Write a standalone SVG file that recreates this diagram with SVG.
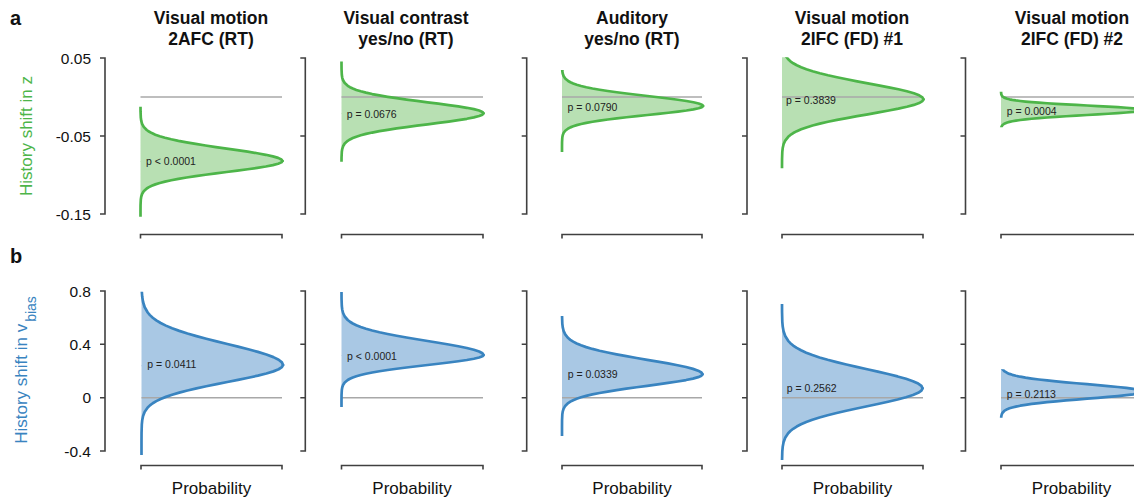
<svg xmlns="http://www.w3.org/2000/svg" xmlns:xlink="http://www.w3.org/1999/xlink" width="1134" height="503" viewBox="0 0 1134 503">
<style>
.ax{fill:none;stroke:#404040;stroke-width:1.6}
.zero{stroke:#a8a8a8;stroke-width:1.5}
.gf{fill:#b8e0b3;stroke:none}
.gs{fill:none;stroke:#4db549;stroke-width:2.7;stroke-linejoin:round;stroke-linecap:round}
.bf{fill:#a9c8e4;stroke:none}
.bs{fill:none;stroke:#3984c0;stroke-width:2.7;stroke-linejoin:round;stroke-linecap:round}
.tk{font-family:"Liberation Sans",Arial,sans-serif;font-size:15.5px;fill:#111;text-anchor:end}
.pv{font-family:"Liberation Sans",Arial,sans-serif;font-size:10.5px;fill:#222}
.ttl{font-family:"Liberation Sans",Arial,sans-serif;font-size:17.5px;font-weight:bold;fill:#111;text-anchor:middle}
.xl{font-family:"Liberation Sans",Arial,sans-serif;font-size:17px;fill:#111;text-anchor:middle}
.yl{font-family:"Liberation Sans",Arial,sans-serif;font-size:17px;text-anchor:middle}
.lt{font-family:"Liberation Sans",Arial,sans-serif;font-size:20px;font-weight:bold;fill:#111}
</style>
<defs>
<path id="us" vector-effect="non-scaling-stroke" d="M0,-40 V-4.5 L0.00034,-4 L0.00219,-3.5 L0.00509,-3.25 L0.01111,-3 L0.02279,-2.75 L0.04394,-2.5 L0.05958,-2.375 L0.07956,-2.25 L0.10459,-2.125 L0.13534,-2 L0.17242,-1.875 L0.21627,-1.75 L0.26705,-1.625 L0.32465,-1.5 L0.38856,-1.375 L0.45783,-1.25 L0.53111,-1.125 L0.60653,-1 L0.68194,-0.875 L0.75484,-0.75 L0.82258,-0.625 L0.8825,-0.5 L0.9321,-0.375 L0.96923,-0.25 L0.99222,-0.125 L1,0"/>
<path id="uf" d="M0,0.06 V-40 V-4.5 L0.00034,-4 L0.00219,-3.5 L0.00509,-3.25 L0.01111,-3 L0.02279,-2.75 L0.04394,-2.5 L0.05958,-2.375 L0.07956,-2.25 L0.10459,-2.125 L0.13534,-2 L0.17242,-1.875 L0.21627,-1.75 L0.26705,-1.625 L0.32465,-1.5 L0.38856,-1.375 L0.45783,-1.25 L0.53111,-1.125 L0.60653,-1 L0.68194,-0.875 L0.75484,-0.75 L0.82258,-0.625 L0.8825,-0.5 L0.9321,-0.375 L0.96923,-0.25 L0.99222,-0.125 L1,0 L0.998,0.06 Z"/>
<path id="ds" vector-effect="non-scaling-stroke" d="M1,0 L0.99222,0.125 L0.96923,0.25 L0.9321,0.375 L0.8825,0.5 L0.82258,0.625 L0.75484,0.75 L0.68194,0.875 L0.60653,1 L0.53111,1.125 L0.45783,1.25 L0.38856,1.375 L0.32465,1.5 L0.26705,1.625 L0.21627,1.75 L0.17242,1.875 L0.13534,2 L0.10459,2.125 L0.07956,2.25 L0.05958,2.375 L0.04394,2.5 L0.02279,2.75 L0.01111,3 L0.00509,3.25 L0.00219,3.5 L0.00034,4 L0,4.5 V40"/>
<path id="df" d="M0,0 L1,0 L0.99222,0.125 L0.96923,0.25 L0.9321,0.375 L0.8825,0.5 L0.82258,0.625 L0.75484,0.75 L0.68194,0.875 L0.60653,1 L0.53111,1.125 L0.45783,1.25 L0.38856,1.375 L0.32465,1.5 L0.26705,1.625 L0.21627,1.75 L0.17242,1.875 L0.13534,2 L0.10459,2.125 L0.07956,2.25 L0.05958,2.375 L0.04394,2.5 L0.02279,2.75 L0.01111,3 L0.00509,3.25 L0.00219,3.5 L0.00034,4 L0,4.5 V40 Z"/>
<clipPath id="cA1"><rect x="130" y="106.7" width="165" height="110"/></clipPath>
<clipPath id="cA2"><rect x="331" y="61.5" width="165" height="100.2"/></clipPath>
<clipPath id="cA3"><rect x="552" y="70" width="165" height="82"/></clipPath>
<clipPath id="cA4"><rect x="772" y="57.3" width="165" height="111"/></clipPath>
<clipPath id="cA5"><rect x="991" y="91.7" width="165" height="35.6"/></clipPath>
<clipPath id="cB1"><rect x="130" y="291.7" width="165" height="163.3"/></clipPath>
<clipPath id="cB2"><rect x="331" y="292" width="165" height="115"/></clipPath>
<clipPath id="cB3"><rect x="552" y="316" width="165" height="120"/></clipPath>
<clipPath id="cB4"><rect x="772" y="304" width="165" height="156"/></clipPath>
<clipPath id="cB5"><rect x="991" y="369.3" width="165" height="48.4"/></clipPath>
</defs>

<rect x="0" y="0" width="1134" height="503" fill="#ffffff"/>

<g id="labels">
<text class="lt" x="10" y="25">a</text>
<text class="lt" x="10" y="263">b</text>
<text class="yl" fill="#4db549" transform="translate(32,136) rotate(-90)">History shift in z</text>
<text class="yl" fill="#3984c0" transform="translate(27,370) rotate(-90)">History shift in v<tspan dx="2" dy="9" font-size="14px">bias</tspan></text>
<text class="tk" x="91" y="63.5">0.05</text>
<text class="tk" x="91" y="141.5">-0.05</text>
<text class="tk" x="91" y="219.5">-0.15</text>
<text class="tk" x="91" y="296.5">0.8</text>
<text class="tk" x="91" y="349.8">0.4</text>
<text class="tk" x="91" y="403.2">0</text>
<text class="tk" x="91" y="456.5">-0.4</text>
</g>

<g id="titles">
<text class="ttl" x="211" y="24">Visual motion</text><text class="ttl" x="211" y="44.5">2AFC (RT)</text>
<text class="ttl" x="406" y="24">Visual contrast</text><text class="ttl" x="406" y="44.5">yes/no (RT)</text>
<text class="ttl" x="632" y="24">Auditory</text><text class="ttl" x="632" y="44.5">yes/no (RT)</text>
<text class="ttl" x="852" y="24">Visual motion</text><text class="ttl" x="852" y="44.5">2IFC (FD) #1</text>
<text class="ttl" x="1072" y="24">Visual motion</text><text class="ttl" x="1072" y="44.5">2IFC (FD) #2</text>
</g>

<!-- top row -->
<g id="panelA1">
<path class="ax" d="M100,58 H105 V214 H100 M100,136 H105"/>
<path class="ax" d="M140.5,238.5 V234.5 H282 V238.5"/>
<g clip-path="url(#cA1)">
<use href="#uf" class="gf" transform="translate(140.5,161) scale(142,12.4)"/>
<use href="#df" class="gf" transform="translate(140.5,161) scale(142,11)"/>
</g>
<line class="zero" x1="140.5" y1="97" x2="282" y2="97"/>
<g clip-path="url(#cA1)">
<use href="#us" class="gs" transform="translate(140.5,161) scale(142,12.4)"/>
<use href="#ds" class="gs" transform="translate(140.5,161) scale(142,11)"/>
</g>
<text class="pv" x="146" y="164.5">p &lt; 0.0001</text>
</g>

<g id="panelA2">
<path class="ax" d="M300.3,58 H305.3 V214 H300.3 M300.3,136 H305.3"/>
<path class="ax" d="M341.5,238.5 V234.5 H483 V238.5"/>
<g clip-path="url(#cA2)">
<use href="#uf" class="gf" transform="translate(341.5,113.3) scale(142,11)"/>
<use href="#df" class="gf" transform="translate(341.5,113.3) scale(142,11)"/>
</g>
<line class="zero" x1="341.5" y1="97" x2="483" y2="97"/>
<g clip-path="url(#cA2)">
<use href="#us" class="gs" transform="translate(341.5,113.3) scale(142,11)"/>
<use href="#ds" class="gs" transform="translate(341.5,113.3) scale(142,11)"/>
</g>
<text class="pv" x="346.7" y="118.3">p = 0.0676</text>
</g>

<g id="panelA3">
<path class="ax" d="M521.7,58 H526.7 V214 H521.7 M521.7,136 H526.7"/>
<path class="ax" d="M562,238.5 V234.5 H702 V238.5"/>
<g clip-path="url(#cA3)">
<use href="#uf" class="gf" transform="translate(562,106) scale(141,10)"/>
<use href="#df" class="gf" transform="translate(562,106) scale(141,9)"/>
</g>
<line class="zero" x1="562" y1="97" x2="702" y2="97"/>
<g clip-path="url(#cA3)">
<use href="#us" class="gs" transform="translate(562,106) scale(141,10)"/>
<use href="#ds" class="gs" transform="translate(562,106) scale(141,9)"/>
</g>
<text class="pv" x="567.5" y="111">p = 0.0790</text>
</g>

<g id="panelA4">
<path class="ax" d="M742,58 H747 V214 H742 M742,136 H747"/>
<path class="ax" d="M782,238.5 V234.5 H923 V238.5"/>
<g clip-path="url(#cA4)">
<use href="#uf" class="gf" transform="translate(782,99.3) scale(141.5,16)"/>
<use href="#df" class="gf" transform="translate(782,99.3) scale(141.5,15)"/>
</g>
<line class="zero" x1="782" y1="97" x2="923" y2="97"/>
<g clip-path="url(#cA4)">
<use href="#us" class="gs" transform="translate(782,99.3) scale(141.5,16)"/>
<use href="#ds" class="gs" transform="translate(782,99.3) scale(141.5,15)"/>
</g>
<text class="pv" x="786" y="104.3">p = 0.3839</text>
</g>

<g id="panelA5">
<path class="ax" d="M960.5,58 H965.5 V214 H960.5 M960.5,136 H965.5"/>
<path class="ax" d="M1001,238.5 V234.5 H1142.5 V238.5"/>
<g clip-path="url(#cA5)">
<use href="#uf" class="gf" transform="translate(1001,110) scale(142,4.5)"/>
<use href="#df" class="gf" transform="translate(1001,110) scale(142,5)"/>
</g>
<line class="zero" x1="1001" y1="97" x2="1142.5" y2="97"/>
<g clip-path="url(#cA5)">
<use href="#us" class="gs" transform="translate(1001,110) scale(142,4.5)"/>
<use href="#ds" class="gs" transform="translate(1001,110) scale(142,5)"/>
</g>
<text class="pv" x="1006.7" y="114.5">p = 0.0004</text>
</g>

<!-- bottom row -->
<g id="panelB1">
<path class="ax" d="M100,291 H105 V451 H100 M100,344.3 H105 M100,397.7 H105"/>
<path class="ax" d="M141,469.5 V465.5 H282 V469.5"/>
<g clip-path="url(#cB1)">
<use href="#uf" class="bf" transform="translate(141.5,365) scale(141.5,21)"/>
<use href="#df" class="bf" transform="translate(141.5,365) scale(141.5,17)"/>
</g>
<line class="zero" x1="141.5" y1="397.7" x2="282" y2="397.7"/>
<g clip-path="url(#cB1)">
<use href="#us" class="bs" transform="translate(141.5,365) scale(141.5,21)"/>
<use href="#ds" class="bs" transform="translate(141.5,365) scale(141.5,17)"/>
</g>
<text class="pv" x="147.3" y="368.3">p = 0.0411</text>
</g>

<g id="panelB2">
<path class="ax" d="M300.3,291 H305.3 V451 H300.3 M300.3,344.3 H305.3 M300.3,397.7 H305.3"/>
<path class="ax" d="M341.5,469.5 V465.5 H483 V469.5"/>
<g clip-path="url(#cB2)">
<use href="#uf" class="bf" transform="translate(341.5,355) scale(142,14)"/>
<use href="#df" class="bf" transform="translate(341.5,355) scale(142,10)"/>
</g>
<line class="zero" x1="341.5" y1="397.7" x2="483" y2="397.7"/>
<g clip-path="url(#cB2)">
<use href="#us" class="bs" transform="translate(341.5,355) scale(142,14)"/>
<use href="#ds" class="bs" transform="translate(341.5,355) scale(142,10)"/>
</g>
<text class="pv" x="347" y="360">p &lt; 0.0001</text>
</g>

<g id="panelB3">
<path class="ax" d="M521.7,291 H526.7 V451 H521.7 M521.7,344.3 H526.7 M521.7,397.7 H526.7"/>
<path class="ax" d="M562,469.5 V465.5 H702 V469.5"/>
<g clip-path="url(#cB3)">
<use href="#uf" class="bf" transform="translate(562,374.3) scale(140.5,14.5)"/>
<use href="#df" class="bf" transform="translate(562,374.3) scale(140.5,11.5)"/>
</g>
<line class="zero" x1="562" y1="397.7" x2="702" y2="397.7"/>
<g clip-path="url(#cB3)">
<use href="#us" class="bs" transform="translate(562,374.3) scale(140.5,14.5)"/>
<use href="#ds" class="bs" transform="translate(562,374.3) scale(140.5,11.5)"/>
</g>
<text class="pv" x="567.7" y="378.3">p = 0.0339</text>
</g>

<g id="panelB4">
<path class="ax" d="M742,291 H747 V451 H742 M742,344.3 H747 M742,397.7 H747"/>
<path class="ax" d="M782,469.5 V465.5 H923 V469.5"/>
<g clip-path="url(#cB4)">
<use href="#uf" class="bf" transform="translate(782,388.3) scale(140.5,19)"/>
<use href="#df" class="bf" transform="translate(782,388.3) scale(140.5,18)"/>
</g>
<line class="zero" x1="782" y1="397.7" x2="923" y2="397.7"/>
<g clip-path="url(#cB4)">
<use href="#us" class="bs" transform="translate(782,388.3) scale(140.5,19)"/>
<use href="#ds" class="bs" transform="translate(782,388.3) scale(140.5,18)"/>
</g>
<text class="pv" x="786.7" y="391.7">p = 0.2562</text>
</g>

<g id="panelB5">
<path class="ax" d="M960.5,291 H965.5 V451 H960.5 M960.5,344.3 H965.5 M960.5,397.7 H965.5"/>
<path class="ax" d="M1001,469.5 V465.5 H1142.5 V469.5"/>
<g clip-path="url(#cB5)">
<use href="#uf" class="bf" transform="translate(1001,391.7) scale(142,7.5)"/>
<use href="#df" class="bf" transform="translate(1001,391.7) scale(142,7)"/>
</g>
<line class="zero" x1="1001" y1="397.7" x2="1142.5" y2="397.7"/>
<g clip-path="url(#cB5)">
<use href="#us" class="bs" transform="translate(1001,391.7) scale(142,7.5)"/>
<use href="#ds" class="bs" transform="translate(1001,391.7) scale(142,7)"/>
</g>
<text class="pv" x="1006.7" y="398.3">p = 0.2113</text>
</g>

<g id="xlabels">
<text class="xl" x="211.5" y="493.5">Probability</text>
<text class="xl" x="412" y="493.5">Probability</text>
<text class="xl" x="632" y="493.5">Probability</text>
<text class="xl" x="852.5" y="493.5">Probability</text>
<text class="xl" x="1071.5" y="493.5">Probability</text>
</g>
</svg>
